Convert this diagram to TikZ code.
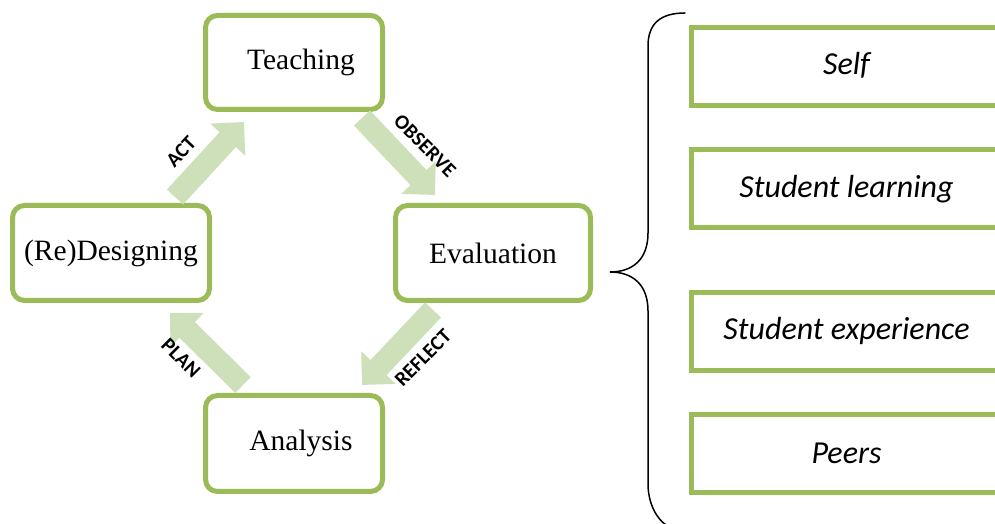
\documentclass[tikz,border=0pt]{standalone}
\usepackage{fontspec}
\setmainfont{Liberation Serif}
\newfontfamily\calibri{Carlito}
\usetikzlibrary{arrows.meta}
\definecolor{boxgreen}{RGB}{155,187,89}
\definecolor{arrowgreen}{RGB}{205,224,185}

\begin{document}
\begin{tikzpicture}[x=1pt,y=1pt,
  stage/.style={draw=boxgreen, line width=5pt, rounded corners=12pt, fill=white,
    inner sep=0pt, font=\fontsize{29.5}{31}\selectfont},
  source/.style={draw=boxgreen, line width=5pt, minimum width=311pt, minimum height=78pt,
    inner sep=0pt, font=\calibri\itshape\fontsize{32}{34}\selectfont},
  flow/.style={line width=22pt, draw=arrowgreen, -{Triangle[width=46pt,length=24pt]}},
  verb/.style={font=\calibri\bfseries\fontsize{20.5}{22}\selectfont, inner sep=0pt}
]
\useasboundingbox (0,0) rectangle (995,524);
\clip (0,0) rectangle (995,524);
\fill[white] (0,0) rectangle (995,524);

% the four stages of the cycle
\node[stage, minimum width=177pt, minimum height=94pt] (teach) at (294,461.5) {\hspace*{14pt}\raisebox{-3pt}{Teaching}};
\node[stage, minimum width=197pt, minimum height=95pt] (design) at (111,271) {(Re)Designing};
\node[stage, minimum width=195pt, minimum height=95pt] (eval) at (493,271) {Evaluation};
\node[stage, minimum width=177pt, minimum height=96pt] (analysis) at (294,80.5) {\hspace*{14pt}Analysis};

% arrow ends between the stages
\coordinate (actS) at (175,327);  \coordinate (actE) at (244,402);
\coordinate (obsS) at (362,406);  \coordinate (obsE) at (435,329);
\coordinate (refS) at (433,214);  \coordinate (refE) at (362,139);
\coordinate (plaS) at (243,139);  \coordinate (plaE) at (170,211);

\draw[flow] (actS) -- (actE);
\draw[flow] (obsS) -- (obsE);
\draw[flow] (refS) -- (refE);
\draw[flow] (plaS) -- (plaE);

\node[verb, rotate=47] (act) at (181,372) {ACT};
\node[verb, rotate=-45] (observe) at (425,378) {OBSERVE};
\node[verb, rotate=45] (reflect) at (423,166) {REFLECT};
\node[verb, rotate=-45] (plan) at (181,166) {PLAN};

% brace grouping the sources of evaluation
\draw[line width=1.5pt, line cap=round]
  (685,511) .. controls (660,511) and (648,500) .. (648,478) -- (648,291)
  .. controls (648,264) and (632,252) .. (610,252)
  .. controls (632,252) and (648,240) .. (648,213) -- (648,40)
  .. controls (648,18) and (660,-7) .. (685,-7);

% sources of evaluation
\node[source] (self) at (846.5,457) {\raisebox{7pt}{Self}};
\node[source] (learn) at (846.5,335) {\raisebox{6pt}{Student learning}};
\node[source] (exper) at (846.5,192.5) {\raisebox{6pt}{Student experience}};
\node[source] (peers) at (846.5,70) {\raisebox{2pt}{Peers}};
\end{tikzpicture}
\end{document}
